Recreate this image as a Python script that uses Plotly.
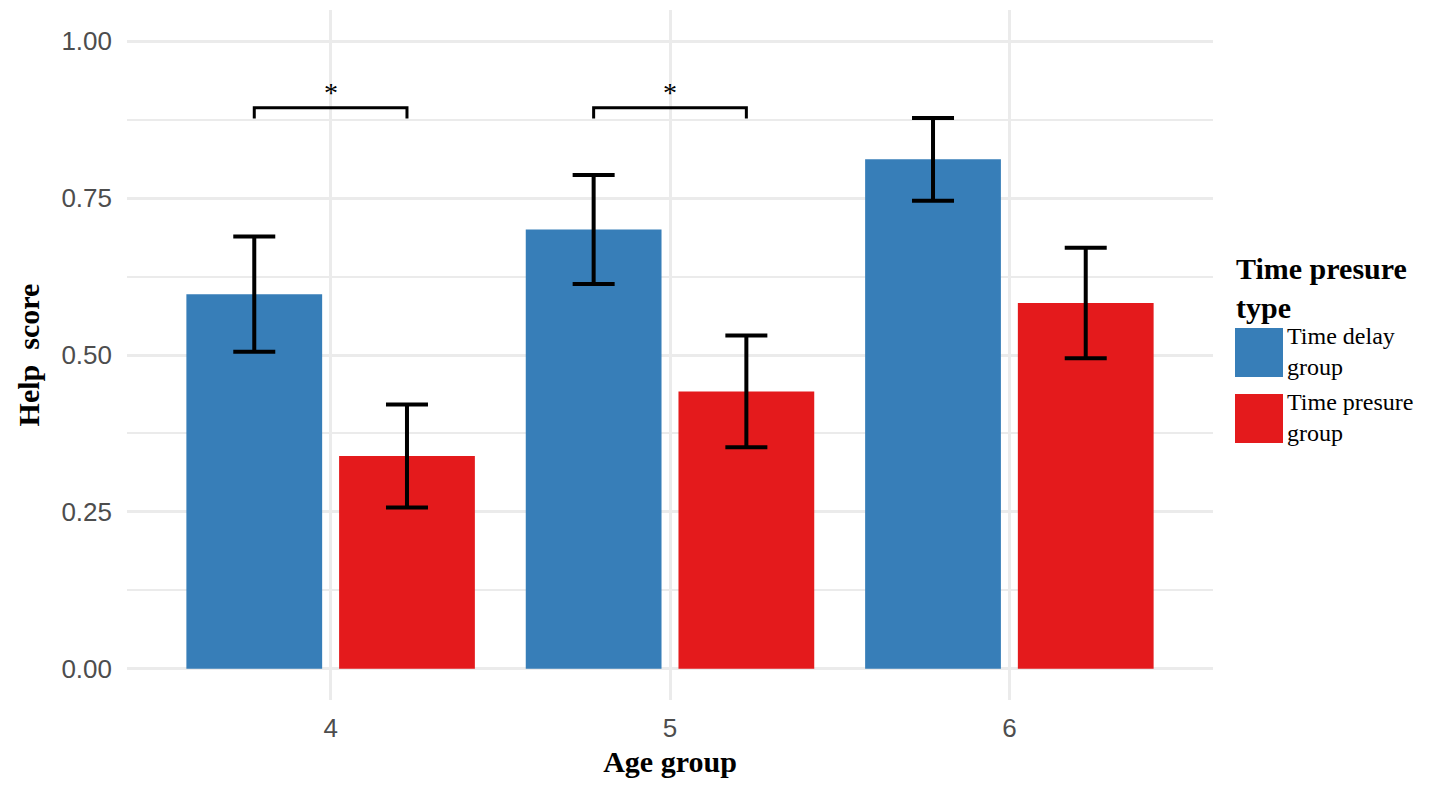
import plotly.graph_objects as go

# ---- data ----
age_groups = ["4", "5", "6"]
delay_means = [0.597, 0.700, 0.812]
delay_se = [0.092, 0.087, 0.066]
pressure_means = [0.339, 0.442, 0.583]
pressure_se = [0.082, 0.089, 0.088]
series_names = ["Time delay<br>group", "Time presure<br>group"]
legend_title = "Time presure<br>type"
sig_groups = ["4", "5"]
sig_label = "*"
sig_bracket_y = 0.894
sig_tick_y = 0.877
y_ticks = [0.0, 0.25, 0.5, 0.75, 1.0]

BLUE = "#377EB8"
RED = "#E41A1C"
GRID = "#EBEBEB"
PAGE_OFF = 8  # default body margin of the html page
W, H = 1429 - PAGE_OFF, 791 - PAGE_OFF
ML, MR, MT, MB = 127 - PAGE_OFF, 216, 10 - PAGE_OFF, 91

BARGAP = 0.1
BARGROUPGAP = 0.111
dodge = (1 - BARGAP) / 4  # centre offset of each bar within its group

fig = go.Figure()
fig.add_trace(go.Bar(
    x=age_groups, y=delay_means, name="Time delay group",
    marker=dict(color=BLUE, line=dict(width=0)),
    error_y=dict(type="data", array=delay_se, color="black", thickness=4, width=21),
))
fig.add_trace(go.Bar(
    x=age_groups, y=pressure_means, name="Time presure group",
    marker=dict(color=RED, line=dict(width=0)),
    error_y=dict(type="data", array=pressure_se, color="black", thickness=4, width=21),
))

# significance brackets
for g in sig_groups:
    i = age_groups.index(g)
    x0, x1 = i - dodge, i + dodge
    fig.add_shape(type="path", xref="x", yref="y",
                  path=f"M {x0},{sig_tick_y} L {x0},{sig_bracket_y} L {x1},{sig_bracket_y} L {x1},{sig_tick_y}",
                  line=dict(color="black", width=3))
    fig.add_annotation(x=i, y=sig_bracket_y, xref="x", yref="y", text=sig_label,
                       showarrow=False, yanchor="bottom", yshift=-2,
                       font=dict(family="Liberation Serif", size=28, color="black"))

# custom legend (page-pixel helpers)
pw, ph = W - ML - MR, H - MT - MB
def px_x(px):
    return (px - PAGE_OFF - ML) / pw
def px_y(py):
    return (H - MB - (py - PAGE_OFF)) / ph

fig.add_annotation(x=px_x(1234), y=px_y(250), xref="paper", yref="paper",
                   text="<b>" + legend_title + "</b>", showarrow=False,
                   xanchor="left", yanchor="top", align="left",
                   font=dict(family="Liberation Serif", size=30, color="black"))
for (top, col, name) in [(328, BLUE, series_names[0]), (394, RED, series_names[1])]:
    fig.add_shape(type="rect", xref="paper", yref="paper",
                  x0=px_x(1235), x1=px_x(1283), y0=px_y(top + 49), y1=px_y(top),
                  fillcolor=col, line=dict(width=0))
    fig.add_annotation(x=px_x(1285), y=px_y(top + 23), xref="paper", yref="paper",
                       text=name, showarrow=False, xanchor="left", yanchor="middle",
                       align="left",
                       font=dict(family="Liberation Serif", size=24, color="black"))

fig.update_layout(
    width=W, height=H,
    margin=dict(l=ML, r=MR, t=MT, b=MB),
    plot_bgcolor="white", paper_bgcolor="white",
    barmode="group", bargap=BARGAP, bargroupgap=BARGROUPGAP,
    showlegend=False,
    font=dict(family="Liberation Sans", color="#4D4D4D"),
)
fig.update_xaxes(
    type="category", range=[-0.6, 2.6],
    showgrid=True, gridcolor=GRID, gridwidth=3, zeroline=False, showline=False,
    ticks="", tickfont=dict(size=26, color="#4D4D4D", family="Liberation Sans"),
    ticklabelstandoff=10,
    title=dict(text="<b>Age group</b>", standoff=8,
               font=dict(family="Liberation Serif", size=30, color="black")),
)
fig.update_yaxes(
    range=[-0.05, 1.05], tickvals=y_ticks, tickformat=".2f",
    showgrid=True, gridcolor=GRID, gridwidth=2.8, zeroline=False, showline=False,
    minor=dict(dtick=0.125, tick0=0, showgrid=True, gridcolor=GRID, gridwidth=1.5),
    ticks="", tickfont=dict(size=26, color="#4D4D4D", family="Liberation Sans"),
    ticklabelstandoff=14,
    title=dict(text="<b>Help  score</b>", standoff=12,
               font=dict(family="Liberation Serif", size=30, color="black")),
)

fig.write_html("out.html")
